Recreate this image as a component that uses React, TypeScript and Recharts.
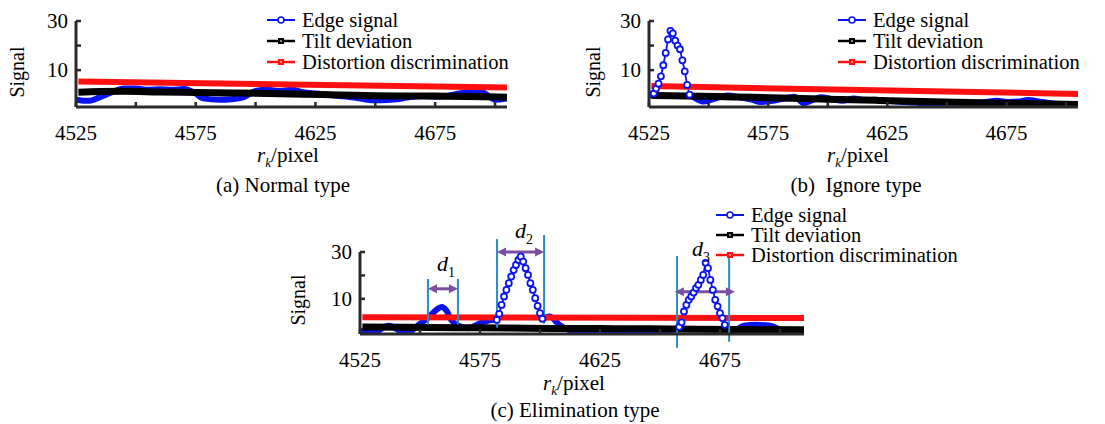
import React from 'react';
import { LineChart, Line, XAxis, YAxis, ReferenceLine, ReferenceDot } from 'recharts';

const FONT = '"Liberation Serif", "Times New Roman", serif';
const AXIS = '#2b2b2b';
const BLUE = '#0a14f0';
const RED = '#ff1010';
const BLACK = '#000000';
const GUIDE = '#2a8ac8';
const ARROW = '#7a4fa0';

type Pt = [number, number | null];

const seriesNames = ['Edge signal', 'Tilt deviation', 'Distortion discrimination'];
const xTicks = [4525, 4550, 4575, 4600, 4625, 4650, 4675, 4700];
const xTickLabels = [4525, 4575, 4625, 4675];
const yTicks = [10, 20, 30];
const yTickLabels = [10, 30];

// (a) Normal type
const aEdge: Pt[] = [
  [4525, -2.0], [4530, -2.5], [4535, -1.0], [4540, 1.0], [4545, 2.5], [4550, 2.5], [4555, 2.0],
  [4560, 2.2], [4565, 2.0], [4570, 2.3], [4575, 0.5], [4578, -1.5], [4585, -2.0], [4590, -1.8],
  [4595, -1.0], [4600, 1.5], [4605, 2.0], [4610, 1.5], [4615, 2.0], [4620, 1.0], [4625, 0.5],
  [4630, 0.0], [4635, -0.5], [4640, -1.0], [4645, -1.8], [4650, -2.3], [4655, -2.2], [4660, -1.8],
  [4665, -0.8], [4670, -0.5], [4675, -0.8], [4680, -0.5], [4685, 0.5], [4690, 1.0], [4695, 0.8],
  [4700, -2.0], [4705, -1.5],
];
const aTilt: Pt[] = [
  [4526, 1.0], [4535, 1.3], [4545, 1.4], [4560, 1.1], [4575, 0.9], [4590, 0.7], [4605, 0.5],
  [4620, 0.2], [4635, -0.1], [4650, -0.4], [4665, -0.5], [4680, -0.6], [4695, -0.8], [4705, -1.0],
];
const aDist: Pt[] = [[4526, 5.4], [4705, 2.9]];

// (b) Ignore type
const bEdge: Pt[] = [
  [4525, -0.5], [4527, 0.5], [4528, null], [4541, null], [4542, 0], [4544, -1.2], [4548, -2.8],
  [4553, -1.5], [4558, -0.3], [4563, -1.0], [4568, -2.0], [4572, -3.0], [4577, -2.5], [4582, -1.5],
  [4586, -0.8], [4590, -3.5], [4594, -2.0], [4597, -1.0], [4602, -1.8], [4606, -2.5], [4611, -1.5],
  [4615, -2.2], [4620, -2.0], [4626, -2.6], [4632, -3.0], [4637, -3.2], [4641, -4.2], [4646, -3.5],
  [4652, -3.2], [4658, -3.3], [4664, -3.2], [4671, -2.5], [4676, -3.0], [4680, -2.8], [4684, -2.2],
  [4690, -3.0], [4697, -3.8], [4705, -3.8],
];
const bPeak: Pt[] = [
  [4527, 0.5], [4528, 2.5], [4529, 4.5], [4530, 7.5], [4531, 12], [4532, 17], [4533, 22.5],
  [4534, 26], [4535, 25], [4536, 22], [4537, 20], [4538, 18.5], [4539, 14], [4540, 9.5],
  [4541, 4], [4542, 0],
];
const bTilt: Pt[] = [
  [4526, -0.3], [4540, -0.5], [4560, -0.9], [4580, -1.3], [4600, -1.8], [4620, -2.3],
  [4640, -2.8], [4660, -3.2], [4680, -3.6], [4705, -4.0],
];
const bDist: Pt[] = [[4526, 3.5], [4705, 0.3]];

// (c) Elimination type
const cEdge: Pt[] = [
  [4525, -3.5], [4530, -4.6], [4537, -1.5], [4544, -4.6], [4550, -0.6], [4554, 2.5], [4557, 5.5],
  [4559, 6.5], [4561, 5.0], [4563, 1.0], [4566, -1.5], [4570, -2.5], [4576, 0.0], [4580, 1.0],
  [4582, 1.0], [4583, null], [4600, null], [4601, 1.5], [4604, 2.5], [4608, -1.0], [4614, -3.9],
  [4625, -4.3], [4635, -4.3], [4643, -5.0], [4650, -4.3], [4655, -3.5], [4658, -2.0], [4659, null],
  [4676, null], [4677, -1.1], [4680, -3.9], [4685, -1.5], [4690, -1.1], [4696, -1.5], [4702, -3.9],
  [4710, -4.6],
];
const cPeakD2: Pt[] = [
  [4582, 1.0], [4583, 3.6], [4584, 7.4], [4585, 11.0], [4586, 13.8], [4587, 16.7], [4588, 19.5],
  [4589, 22.3], [4590, 24.5], [4591, 26.6], [4592, 28.0], [4593, 25.9], [4594, 23.1], [4595, 20.2],
  [4596, 16.7], [4597, 13.8], [4598, 10.3], [4599, 7.0], [4600, 3.9], [4601, 1.5],
];
const cPeakD3: Pt[] = [
  [4658, -2.0], [4659, 0.0], [4660, 4.6], [4661, 7.4], [4662, 9.6], [4663, 11.0], [4664, 12.7],
  [4665, 14.6], [4666, 16.0], [4667, 18.1], [4668, 20.2], [4669, 25.4], [4670, 23.1], [4671, 18.1],
  [4672, 13.8], [4673, 9.6], [4674, 6.8], [4675, 3.9], [4676, 1.8], [4677, -1.1],
];
const cTilt: Pt[] = [
  [4526, -2.0], [4545, -2.1], [4565, -2.3], [4585, -2.4], [4605, -2.6], [4625, -2.7],
  [4645, -2.8], [4665, -3.0], [4685, -3.1], [4710, -3.2],
];
const cDist: Pt[] = [[4526, 2.2], [4710, 1.8]];

// width markers in (c)
const cGuides = [
  { x: 4553.3, y1: -0.9, y2: 18.5 },
  { x: 4565.8, y1: -0.9, y2: 18.5 },
  { x: 4582.1, y1: -2.3, y2: 35.5 },
  { x: 4601.7, y1: -0.6, y2: 37.2 },
  { x: 4657.1, y1: -10.9, y2: 28.3 },
  { x: 4678.8, y1: -8.3, y2: 27.4 },
];
const cArrows = [
  { x1: 4553.3, x2: 4565.8, y: 14.3 },
  { x1: 4582.1, x2: 4601.7, y: 30.0 },
  { x1: 4656.2, x2: 4681.2, y: 13.0 },
];
const cLabels = [
  { sub: '1', x: 4557.1, y: 21.9 },
  { sub: '2', x: 4589.6, y: 36.0 },
  { sub: '3', x: 4663.3, y: 28.3 },
];

const pts = (a: Pt[]) => a.map(([x, y]) => ({ x, y }));

const X_MARGIN = 18;
const Y_MARGIN = 8;

function XTick(props: any) {
  const { x, y, payload } = props;
  const v = payload.value;
  return (
    <g>
      <line x1={x} x2={x} y1={y - X_MARGIN} y2={y - X_MARGIN - 5} stroke={AXIS} strokeWidth={2.5} />
      {xTickLabels.includes(v) && (
        <text x={x} y={y} dy="0.71em" textAnchor="middle" fontFamily={FONT} fontSize={21} fill="#000">
          {v}
        </text>
      )}
    </g>
  );
}

function YTick(props: any) {
  const { x, y, payload } = props;
  const v = payload.value;
  return (
    <g>
      <line x1={x + Y_MARGIN} x2={x + Y_MARGIN + 5} y1={y} y2={y} stroke={AXIS} strokeWidth={2.5} />
      {yTickLabels.includes(v) && (
        <text x={x} y={y} dy="0.35em" textAnchor="end" fontFamily={FONT} fontSize={21} fill="#000">
          {v}
        </text>
      )}
    </g>
  );
}

function ArrowShape(props: any) {
  const { x1, x2, y1 } = props;
  const h = 9;
  const w = 4.5;
  return (
    <g>
      <line x1={x1 + h - 1} x2={x2 - h + 1} y1={y1} y2={y1} stroke={ARROW} strokeWidth={3} />
      <polygon points={`${x1},${y1} ${x1 + h},${y1 - w} ${x1 + h},${y1 + w}`} fill={ARROW} />
      <polygon points={`${x2},${y1} ${x2 - h},${y1 - w} ${x2 - h},${y1 + w}`} fill={ARROW} />
    </g>
  );
}

function LegendMark({ i }: { i: number }) {
  if (i === 0) {
    return (
      <svg width={28} height={12} style={{ display: 'block' }}>
        <line x1={0} y1={6} x2={28} y2={6} stroke={BLUE} strokeWidth={2} />
        <circle cx={14} cy={6} r={3} fill="#fff" stroke={BLUE} strokeWidth={1.6} />
      </svg>
    );
  }
  const c = i === 1 ? BLACK : RED;
  return (
    <svg width={28} height={12} style={{ display: 'block' }}>
      <line x1={0} y1={6} x2={28} y2={6} stroke={c} strokeWidth={2.5} />
      <rect x={11} y={3} width={6} height={6} fill={c} />
      <rect x={13} y={5} width={2} height={2} fill={i === 1 ? '#888' : '#ff9a9a'} />
    </svg>
  );
}

function LegendBox({ left, top, rowH }: { left: number; top: number; rowH: number }) {
  return (
    <div style={{ position: 'absolute', left, top, fontFamily: FONT, fontSize: 20.5, lineHeight: 1 }}>
      {seriesNames.map((n, i) => (
        <div key={n} style={{ display: 'flex', alignItems: 'center', height: rowH, whiteSpace: 'nowrap' }}>
          <LegendMark i={i} />
          <span style={{ marginLeft: 7 }}>{n}</span>
        </div>
      ))}
    </div>
  );
}

function Txt({ x, y, children, rotate }: { x: number; y: number; children: React.ReactNode; rotate?: boolean }) {
  return (
    <div
      style={{
        position: 'absolute',
        left: x,
        top: y,
        transform: `translate(-50%, -50%)${rotate ? ' rotate(-90deg)' : ''}`,
        fontFamily: FONT,
        fontSize: rotate ? 20 : 21,
        whiteSpace: 'pre',
        lineHeight: 1,
      }}
    >
      {children}
    </div>
  );
}

const XLabel = () => (
  <span>
    <i>r</i>
    <sub style={{ fontSize: 13, fontStyle: 'italic', verticalAlign: '-0.35em' }}>k</sub>/pixel
  </span>
);

type PanelProps = {
  left: number;
  top: number;
  width: number;
  height: number;
  margin: { top: number; right: number; bottom: number; left: number };
  xMax: number;
  edge: Pt[];
  peaks: Pt[][];
  tilt: Pt[];
  dist: Pt[];
  extras?: React.ReactNode[];
};

function Panel(p: PanelProps) {
  return (
    <div style={{ position: 'absolute', left: p.left, top: p.top }}>
      <LineChart width={p.width} height={p.height} margin={p.margin}>
        <XAxis
          type="number"
          dataKey="x"
          domain={[4525, p.xMax]}
          ticks={xTicks}
          interval={0}
          allowDataOverflow
          height={30}
          tickSize={0}
          tickMargin={X_MARGIN}
          tick={(t: any) => <XTick {...t} />}
          axisLine={{ stroke: AXIS, strokeWidth: 3 }}
        />
        <YAxis
          type="number"
          domain={[-5, 30]}
          ticks={yTicks}
          interval={0}
          allowDataOverflow
          width={40}
          tickSize={0}
          tickMargin={Y_MARGIN}
          tick={(t: any) => <YTick {...t} />}
          axisLine={{ stroke: AXIS, strokeWidth: 3 }}
        />
        <Line
          data={pts(p.edge)}
          dataKey="y"
          type="monotone"
          stroke={BLUE}
          strokeWidth={6}
          strokeLinejoin="round"
          dot={false}
          activeDot={false}
          isAnimationActive={false}
        />
        {p.peaks.map((pk, i) => (
          <Line
            key={`pk${i}`}
            data={pts(pk)}
            dataKey="y"
            type="linear"
            stroke={BLUE}
            strokeWidth={1.8}
            dot={{ r: 3, stroke: BLUE, strokeWidth: 1.8, fill: '#fff' }}
            activeDot={false}
            isAnimationActive={false}
          />
        ))}
        <Line
          data={pts(p.tilt)}
          dataKey="y"
          type="monotone"
          stroke={BLACK}
          strokeWidth={7}
          dot={false}
          activeDot={false}
          isAnimationActive={false}
        />
        <Line
          data={pts(p.dist)}
          dataKey="y"
          type="linear"
          stroke={RED}
          strokeWidth={6}
          dot={false}
          activeDot={false}
          isAnimationActive={false}
        />
        {p.extras}
      </LineChart>
    </div>
  );
}

const cExtras: React.ReactNode[] = [
  ...cGuides.map((g, i) => (
    <ReferenceLine
      key={`g${i}`}
      segment={[{ x: g.x, y: g.y1 }, { x: g.x, y: g.y2 }]}
      stroke={GUIDE}
      strokeWidth={2}
      ifOverflow="visible"
    />
  )),
  ...cArrows.map((a, i) => (
    <ReferenceLine
      key={`a${i}`}
      segment={[{ x: a.x1, y: a.y }, { x: a.x2, y: a.y }]}
      ifOverflow="visible"
      shape={(s: any) => <ArrowShape {...s} />}
    />
  )),
  ...cLabels.map((l, i) => (
    <ReferenceDot
      key={`l${i}`}
      x={l.x}
      y={l.y}
      r={0}
      ifOverflow="visible"
      shape={(s: any) => (
        <text x={s.cx} y={s.cy} fontFamily={FONT} fontSize={22} fill="#000">
          <tspan fontStyle="italic">d</tspan>
          <tspan fontSize={14} dy={6}>{l.sub}</tspan>
        </text>
      )}
    />
  )),
];

export default function App() {
  return (
    <div
      style={{
        position: 'absolute',
        left: 0,
        top: 0,
        width: 1105,
        height: 424,
        background: '#fff',
        overflow: 'hidden',
        fontFamily: FONT,
        color: '#000',
      }}
    >
      <LegendBox left={267} top={9.5} rowH={21} />
      <LegendBox left={838} top={9.5} rowH={21} />
      <LegendBox left={716} top={205} rowH={20} />

      <Panel
        left={0}
        top={0}
        width={540}
        height={200}
        margin={{ top: 21, right: 33, left: 36, bottom: 63 }}
        xMax={4705}
        edge={aEdge}
        peaks={[]}
        tilt={aTilt}
        dist={aDist}
      />
      <Panel
        left={560}
        top={0}
        width={545}
        height={200}
        margin={{ top: 21, right: 27, left: 49, bottom: 63 }}
        xMax={4705}
        edge={bEdge}
        peaks={[bPeak]}
        tilt={bTilt}
        dist={bDist}
      />
      <Panel
        left={290}
        top={200}
        width={540}
        height={224}
        margin={{ top: 52, right: 26, left: 30, bottom: 60 }}
        xMax={4710}
        edge={cEdge}
        peaks={[cPeakD2, cPeakD3]}
        tilt={cTilt}
        dist={cDist}
        extras={cExtras}
      />

      <Txt x={17} y={72} rotate>Signal</Txt>
      <Txt x={593} y={72} rotate>Signal</Txt>
      <Txt x={298} y={300} rotate>Signal</Txt>

      <Txt x={288} y={157}><XLabel /></Txt>
      <Txt x={858} y={157}><XLabel /></Txt>
      <Txt x={574} y={385}><XLabel /></Txt>

      <Txt x={283} y={185}>(a) Normal type</Txt>
      <Txt x={856} y={185}>{'(b)  Ignore type'}</Txt>
      <Txt x={575} y={410}>(c) Elimination type</Txt>
    </div>
  );
}
